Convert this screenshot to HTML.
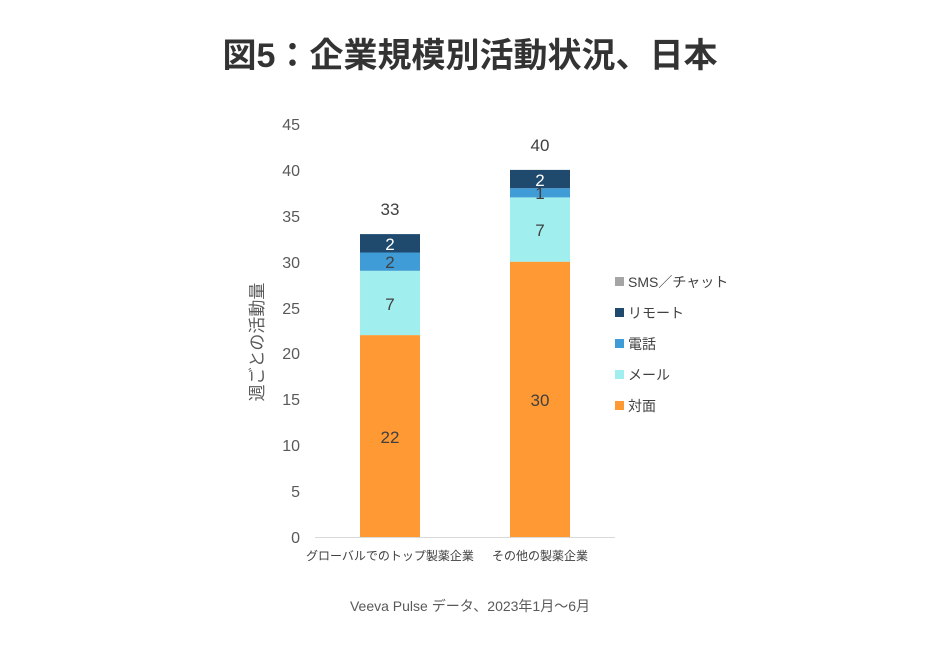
<!DOCTYPE html>
<html><head><meta charset="utf-8"><style>
body{margin:0;background:#fff;}
svg text{font-family:"Liberation Sans","Noto Sans CJK JP",sans-serif;}
</style></head><body>
<svg width="940" height="657" viewBox="0 0 940 657" xmlns="http://www.w3.org/2000/svg">
<rect width="940" height="657" fill="#fff"/>
<text x="470" y="67" text-anchor="middle" font-size="34" font-weight="bold" fill="#333">図5：企業規模別活動状況、日本</text>
<g font-size="16" fill="#595959" text-anchor="end">
<text x="300" y="543">0</text><text x="300" y="497">5</text><text x="300" y="451">10</text><text x="300" y="405">15</text><text x="300" y="359">20</text><text x="300" y="314">25</text><text x="300" y="268">30</text><text x="300" y="222">35</text><text x="300" y="176">40</text><text x="300" y="130">45</text>
</g>
<text transform="translate(263,342) rotate(-90)" text-anchor="middle" font-size="17" fill="#595959">週ごとの活動量</text>
<line x1="315" y1="537.5" x2="615" y2="537.5" stroke="#d9d9d9" stroke-width="1"/>
<rect x="360" y="335.1" width="60" height="201.9" fill="#FF9933"/>
<rect x="360" y="270.8" width="60" height="64.3" fill="#A0EEEE"/>
<rect x="360" y="252.5" width="60" height="18.3" fill="#409CD6"/>
<rect x="360" y="234.1" width="60" height="18.4" fill="#1F4A6E"/>
<rect x="510" y="261.7" width="60" height="275.3" fill="#FF9933"/>
<rect x="510" y="197.4" width="60" height="64.3" fill="#A0EEEE"/>
<rect x="510" y="188.2" width="60" height="9.2" fill="#409CD6"/>
<rect x="510" y="169.9" width="60" height="18.3" fill="#1F4A6E"/>
<g font-size="17" text-anchor="middle" fill="#404040">
<text x="390" y="443">22</text><text x="390" y="310">7</text><text x="390" y="268">2</text>
<text x="540" y="406">30</text><text x="540" y="236">7</text><text x="540" y="199">1</text>
<text x="390" y="215">33</text><text x="540" y="151">40</text>
</g>
<g font-size="17" text-anchor="middle" fill="#fff">
<text x="390" y="250">2</text><text x="540" y="186">2</text>
</g>
<g font-size="12" fill="#404040" text-anchor="middle">
<text x="390" y="560">グローバルでのトップ製薬企業</text>
<text x="540" y="560">その他の製薬企業</text>
</g>
<g font-size="14" fill="#404040">
<rect x="615" y="277" width="9" height="9" fill="#A5A5A5"/><text x="628" y="287">SMS／チャット</text>
<rect x="615" y="308" width="9" height="9" fill="#1F4A6E"/><text x="628" y="318">リモート</text>
<rect x="615" y="339" width="9" height="9" fill="#409CD6"/><text x="628" y="349">電話</text>
<rect x="615" y="370" width="9" height="9" fill="#A0EEEE"/><text x="628" y="380">メール</text>
<rect x="615" y="401" width="9" height="9" fill="#FF9933"/><text x="628" y="411">対面</text>
</g>
<text x="470" y="611" text-anchor="middle" font-size="14" fill="#595959">Veeva Pulse データ、2023年1月～6月</text>
</svg>
</body></html>
